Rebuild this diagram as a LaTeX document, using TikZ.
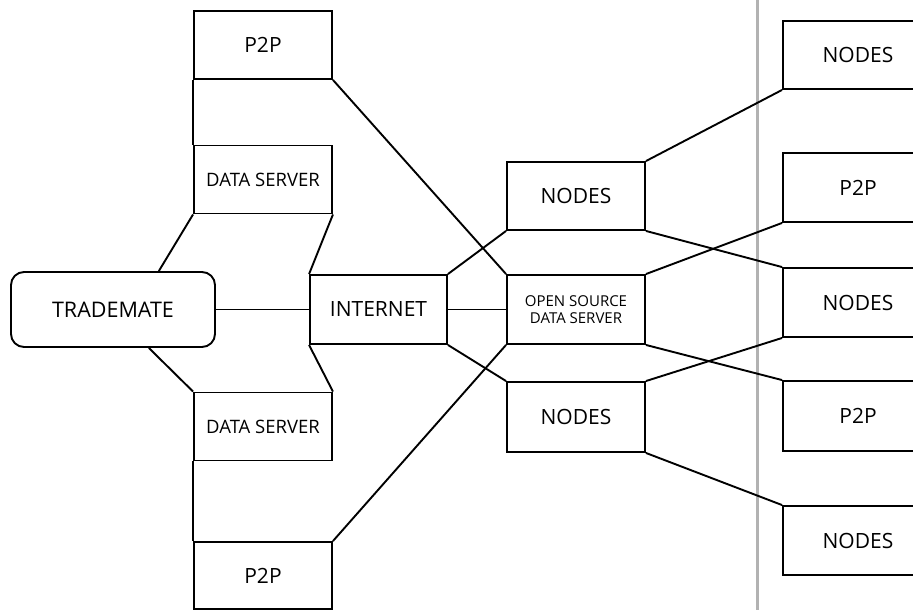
\documentclass[tikz,border=0pt]{standalone}
\usepackage{fontspec}
\setmainfont{Open Sans}
\usepackage{tikz}

\begin{document}
\begin{tikzpicture}[x=1pt,y=-1pt,
  box/.style={draw,line width=1.9pt,minimum width=138pt,minimum height=68pt,inner sep=0pt,font=\fontsize{21}{23}\selectfont},
  farbox/.style={box,minimum width=150pt},
  link/.style={line width=1.9pt}]
%% cadre
\clip (0,0) rectangle (913,610);
\fill[white] (0,0) rectangle (913,610);

%% colonne de gauche
\node[box] (p2pTop) at (263,45) {P2P};
\node[box,font=\fontsize{18.5}{20}\selectfont] (dsTop) at (263,179.5) {DATA SERVER};
\node[box,minimum width=204pt,minimum height=75pt,rounded corners=13pt,font=\fontsize{21.5}{23}\selectfont] (trademate) at (113,309.5) {TRADEMATE};
\node[box,minimum width=137pt,minimum height=69pt] (internet) at (378.5,309.5) {INTERNET};
\node[box,font=\fontsize{18.5}{20}\selectfont] (dsBot) at (263,426.5) {DATA SERVER};
\node[box,minimum height=67pt] (p2pBot) at (263,575.5) {P2P};

%% colonne du milieu
\node[box] (nodesTop) at (576,196) {NODES};
\node[box,minimum height=69pt,align=center,font=\fontsize{15}{17}\selectfont] (osds) at (576,309.5) {OPEN SOURCE\\DATA SERVER};
\node[box,minimum height=70pt] (nodesBot) at (576,417) {NODES};

%% colonne de droite
\node[farbox] (nodesA) at (858,55) {NODES};
\node[farbox,minimum height=69pt] (p2pA) at (858,187.5) {P2P};
\node[farbox,minimum height=69pt] (nodesB) at (858,302.5) {NODES};
\node[farbox,minimum height=70pt] (p2pB) at (858,416) {P2P};
\node[farbox,minimum height=69pt] (nodesC) at (858,540.5) {NODES};

%% separation
\draw[gray!60,line width=3pt] (757,0) -- (757,610);

%% liaisons a gauche
\draw[link] (p2pTop.south west) -- (dsTop.north west);
\draw[link] (dsTop.south west) -- (trademate.40);
\draw[link] (dsTop.south east) -- (internet.north west);
\draw[link] (trademate.east) -- (internet.west);
\draw[link] (trademate.-47) -- (dsBot.north west);
\draw[link] (internet.south west) -- (dsBot.north east);
\draw[link] (dsBot.south west) -- (p2pBot.north west);
\draw[link] (p2pTop.south east) -- (osds.north west);
\draw[link] (p2pBot.north east) -- (osds.south west);

%% liaisons au milieu
\draw[link] (internet.north east) -- (nodesTop.south west);
\draw[link] (internet.east) -- (osds.west);
\draw[link] (internet.south east) -- (nodesBot.north west);

%% liaisons a droite
\draw[link] (nodesTop.north east) -- (nodesA.south west);
\draw[link] (nodesTop.south east) -- (nodesB.north west);
\draw[link] (osds.north east) -- (p2pA.south west);
\draw[link] (osds.south east) -- (p2pB.north west);
\draw[link] (nodesBot.north east) -- (nodesB.south west);
\draw[link] (nodesBot.south east) -- (nodesC.north west);

\end{tikzpicture}
\end{document}
